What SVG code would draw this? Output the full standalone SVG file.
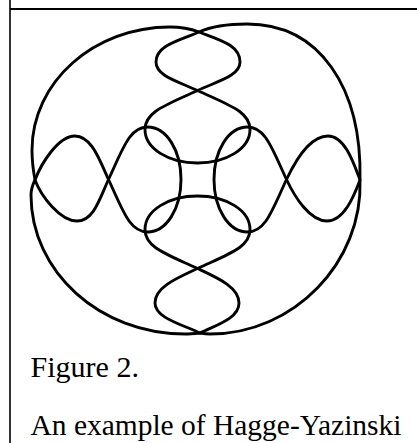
<svg xmlns="http://www.w3.org/2000/svg" width="417" height="443" viewBox="0 0 417 443">
<style>
.frame{stroke:#000;fill:none}
.k{fill:none;stroke:#000;stroke-width:2.9;stroke-linejoin:round;stroke-linecap:round}
.cap{font-family:"Liberation Serif","Times New Roman",serif;font-size:29px;fill:#000}
</style>
<rect width="417" height="443" fill="#fff"/>
<g id="frame">
<line class="frame" x1="10" y1="0" x2="10" y2="443" stroke-width="1.6"/>
<line class="frame" x1="10" y1="9" x2="417" y2="9" stroke-width="2"/>
</g>
<g id="knot">
<path id="outer" class="k" d="M199,32 C213.6,25.4 231,24 247,24 C320,24 362,88 360,180 C363,262 294,334 210,334 C206,334 203,333.5 200,333 C195,333.5 190,334 185,334 C100,334 31,272 31,195 C31,189 33,184 35,180 C33.5,172 32,160 32,150 C32,82 94,27 170,27 C180,27 189.6,28.5 199,32 Z"/>
<path id="top-loop" class="k" d="M199,32 C220,40 240,45 240,62 C240,76 217.4,81.2 197.5,90.5 C177.6,81.2 156,76 156,62 C156,45 179.9,40.6 199,32 Z"/>
<path id="bottom-loop" class="k" d="M197.5,268.5 C217.4,277.8 239,287 239,303 C239,318 218,324.4 200,333 C182,324.4 155,318 155,303 C155,287 177.6,277.8 197.5,268.5 Z"/>
<path id="left-lobe" class="k" d="M35,180 C41,164 58,136 75,136 C92,136 100,161.4 108.5,179.5 C100,197.6 94,221 77,221 C60,221 41,196 35,180 Z"/>
<path id="right-lobe" class="k" d="M286.5,179.5 C295,161.4 310,136 328,136 C345,136 354,164 360,180 C354,196 344,221 327,221 C310,221 295,197.6 286.5,179.5 Z"/>
<path id="upper-petal" class="k" d="M197.5,90.5 C166.5,105 145,111.5 145,129.5 C145,148.5 168.5,163 197.5,163 C226.5,163 250,148.5 250,129.5 C250,111.5 228.5,105 197.5,90.5 Z"/>
<path id="right-petal" class="k" d="M286.5,179.5 C272,148.5 265.5,127 247.5,127 C228.5,127 214,150.5 214,179.5 C214,208.5 228.5,232 247.5,232 C265.5,232 272,210.5 286.5,179.5 Z"/>
<path id="left-petal" class="k" d="M108.5,179.5 C123,210.5 129.5,232 147.5,232 C166.5,232 181,208.5 181,179.5 C181,150.5 166.5,127 147.5,127 C129.5,127 123,148.5 108.5,179.5 Z"/>
<path id="bottom-petal" class="k" d="M197.5,268.5 C228.5,254 250,247.5 250,229.5 C250,210.5 226.5,196 197.5,196 C168.5,196 145,210.5 145,229.5 C145,247.5 166.5,254 197.5,268.5 Z"/>
</g>
<g id="caption">
<text class="cap" x="30.5" y="377" textLength="108.5" lengthAdjust="spacingAndGlyphs">Figure 2.</text>
<text class="cap" x="30.5" y="435" textLength="371" lengthAdjust="spacingAndGlyphs">An example of Hagge-Yazinski</text>
</g>
</svg>
